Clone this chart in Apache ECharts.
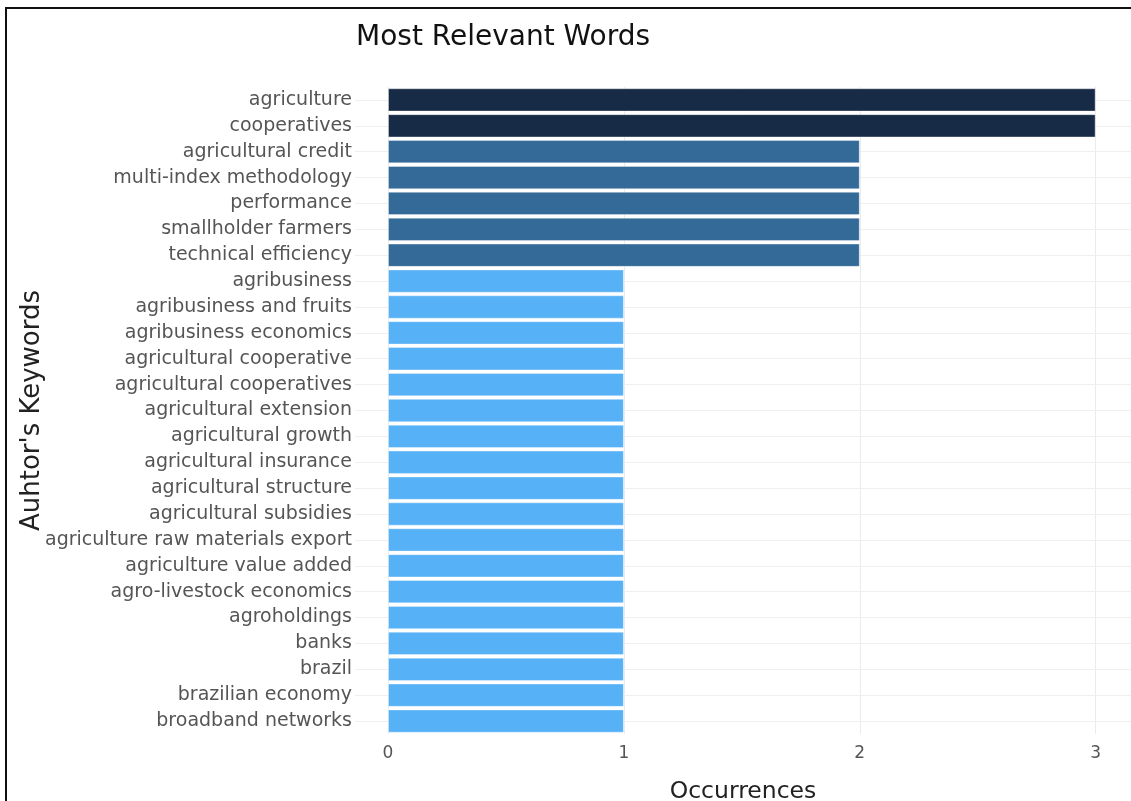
<!DOCTYPE html>
<html>
<head>
<meta charset="utf-8">
<script src="https://cdn.jsdelivr.net/npm/echarts@6/dist/echarts.min.js"></script>
<style>
html,body{margin:0;padding:0;background:#fff;}
#frame{position:absolute;left:5px;top:7px;width:1126px;height:794px;border-left:2px solid #111;border-top:2px solid #111;box-sizing:border-box;pointer-events:none;z-index:2;}
#chart{position:absolute;left:0;top:0;width:1131px;height:801px;}
</style>
</head>
<body>
<div id="chart"></div>
<div id="frame"></div>
<script>
const categories = [
  "agriculture","cooperatives","agricultural credit","multi-index methodology","performance",
  "smallholder farmers","technical efficiency","agribusiness","agribusiness and fruits",
  "agribusiness economics","agricultural cooperative","agricultural cooperatives",
  "agricultural extension","agricultural growth","agricultural insurance","agricultural structure",
  "agricultural subsidies","agriculture raw materials export","agriculture value added",
  "agro-livestock economics","agroholdings","banks","brazil","brazilian economy","broadband networks"
];
const occurrences = [3,3,2,2,2,2,2,1,1,1,1,1,1,1,1,1,1,1,1,1,1,1,1,1,1];
const xTicks = [0,1,2,3];
const gradient = ["#56B1F7","#336A98","#172B46"];

const chart = echarts.init(document.getElementById('chart'));
const font = "DejaVu Sans";
chart.setOption({
  animation:false,
  title:{text:"Most Relevant Words",left:351,top:19,textStyle:{fontFamily:font,fontSize:28,fontWeight:'normal',color:'#111'}},
  visualMap:{show:false,type:'continuous',min:1,max:3,dimension:0,seriesIndex:1,inRange:{color:gradient}},
  grid:{left:355,right:0,top:87,bottom:67,containLabel:false,outerBoundsMode:'none'},
  xAxis:{
    type:'value',min:-0.14,max:3.15,
    name:"Occurrences",nameLocation:'middle',nameGap:46,nameMoveOverlap:false,
    nameTextStyle:{fontFamily:font,fontSize:23.5,color:'#222'},
    axisLine:{show:false},
    axisTick:{show:false,customValues:xTicks},
    axisLabel:{customValues:xTicks,fontFamily:font,fontSize:17,color:'#555',margin:11},
    splitLine:{show:true,lineStyle:{color:'#ebebeb',width:1}}
  },
  yAxis:{
    type:'category',data:categories,inverse:true,
    name:"Auhtor's Keywords",nameLocation:'middle',nameGap:310,nameRotate:90,nameMoveOverlap:false,
    nameTextStyle:{fontFamily:font,fontSize:26,color:'#222'},
    axisLine:{show:false},axisTick:{show:false},
    axisLabel:{fontFamily:font,fontSize:19,color:'#555',margin:3},
    splitLine:{show:false}
  },
  series:[{
    type:'line',data:[],z:0,
    markLine:{z:0,silent:true,symbol:'none',label:{show:false},lineStyle:{color:'#efefef',type:'solid',width:1},
      data:categories.map(c=>({yAxis:c}))}
  },{
    type:'bar',data:occurrences,barWidth:'90%',z:3,
    itemStyle:{borderColor:'rgba(255,255,255,0.35)',borderWidth:1}
  }]
});
</script>
</body>
</html>
